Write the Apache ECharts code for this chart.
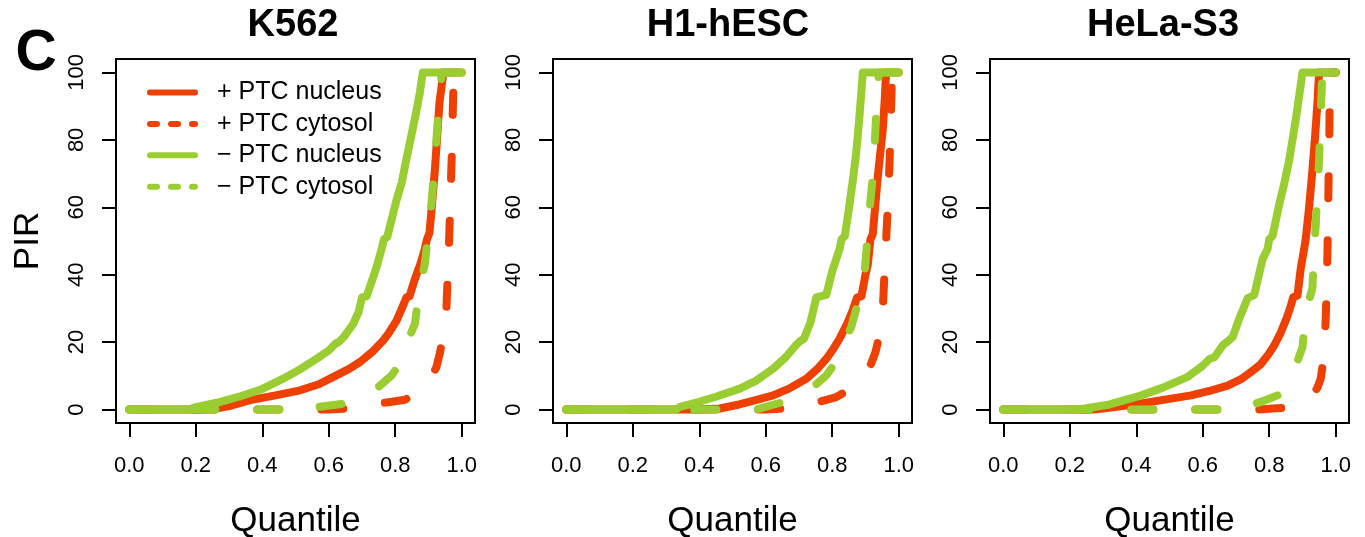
<!DOCTYPE html>
<html>
<head>
<meta charset="utf-8">
<script src="https://cdn.jsdelivr.net/npm/echarts@6/dist/echarts.min.js"></script>
<style>
  html, body { margin: 0; padding: 0; background: #fff; }
  #chart { width: 1365px; height: 537px; }
</style>
</head>
<body>
<div id="chart"></div>
<script>
// Cell lines, one panel each
const cellLines = ['K562', 'H1-hESC', 'HeLa-S3'];
const seriesNames = ['+ PTC nucleus', '+ PTC cytosol', '\u2212 PTC nucleus', '\u2212 PTC cytosol'];
const xTicks = [0, 0.2, 0.4, 0.6, 0.8, 1.0];
const yTicks = [0, 20, 40, 60, 80, 100];

// Quantile curves of PIR: [quantile, PIR]
const k562PlusNucleus = [[0,0],[0.22,0],[0.26,0.3],[0.30,1.0],[0.363,2.8],[0.44,4.2],[0.514,5.7],[0.57,7.5],[0.614,9.7],[0.66,12],[0.694,14.1],[0.73,17],[0.764,20.5],[0.78,22.6],[0.804,26.4],[0.82,30],[0.834,33.3],[0.843,33.6],[0.859,38.7],[0.875,43],[0.889,47.6],[0.895,50.3],[0.903,52.5],[0.91,60],[0.92,72],[0.933,91],[0.945,100],[1,100]];
const k562PlusCytosol = [[0,0],[0.60,0],[0.65,0.3],[0.70,1.0],[0.749,1.8],[0.79,2.3],[0.829,2.9],[0.86,4.5],[0.889,7.2],[0.91,10],[0.924,12.6],[0.935,17],[0.944,22],[0.954,30],[0.958,40],[0.962,50],[0.966,62],[0.97,75],[0.973,88],[0.976,100],[1,100]];
const k562MinusNucleus = [[0,0],[0.18,0],[0.203,0.8],[0.263,2.0],[0.33,3.8],[0.40,6.1],[0.46,9],[0.51,11.7],[0.564,15.1],[0.60,17.5],[0.62,19.5],[0.632,20.2],[0.645,21.5],[0.673,25.3],[0.69,29],[0.70,33.3],[0.714,33.6],[0.743,42],[0.76,48],[0.766,50.5],[0.776,51.2],[0.803,61.8],[0.82,67.5],[0.833,74],[0.85,82],[0.863,88.2],[0.874,94],[0.883,100],[1,100]];
const k562MinusCytosol = [[0,0],[0.565,0],[0.569,0.8],[0.649,1.8],[0.70,3.8],[0.744,6.2],[0.789,10.1],[0.81,13],[0.834,19.5],[0.859,25.4],[0.874,36.3],[0.889,43.2],[0.90,53],[0.91,62],[0.92,75],[0.93,88],[0.94,100],[1,100]];

const h1PlusNucleus = [[0,0],[0.40,0],[0.462,0.3],[0.52,1.5],[0.57,2.8],[0.622,4.2],[0.67,6.2],[0.722,9.1],[0.755,12],[0.782,15],[0.80,17.5],[0.822,21],[0.845,25.5],[0.862,29.5],[0.875,33.3],[0.888,33.6],[0.90,40],[0.907,43],[0.915,50.5],[0.922,52],[0.937,69],[0.952,83],[0.958,92],[0.962,100],[1,100]];
const h1PlusCytosol = [[0,0],[0.60,0],[0.651,0.3],[0.70,1.2],[0.742,1.8],[0.78,2.8],[0.812,3.7],[0.85,5.8],[0.877,8.2],[0.90,11],[0.917,13.6],[0.93,17],[0.942,22],[0.952,29.4],[0.957,40],[0.962,50],[0.967,60],[0.972,72],[0.976,85],[0.98,100],[1,100]];
const h1MinusNucleus = [[0,0],[0.33,0],[0.342,0.8],[0.40,2.3],[0.45,3.8],[0.522,6.2],[0.57,8.5],[0.622,12.1],[0.66,15.5],[0.69,19],[0.702,20.2],[0.715,21],[0.735,26],[0.752,33.3],[0.782,34],[0.80,41],[0.822,47.6],[0.828,50.5],[0.838,51.5],[0.852,60.8],[0.862,68],[0.872,76],[0.882,87],[0.892,100],[1,100]];
const h1MinusCytosol = [[0,0],[0.57,0],[0.572,0.3],[0.647,2.1],[0.70,4.2],[0.737,6.2],[0.782,10.1],[0.81,14],[0.827,18],[0.857,24.4],[0.882,33.3],[0.897,40.2],[0.907,52],[0.915,62],[0.922,69],[0.927,77],[0.932,87],[0.937,95],[0.94,100],[1,100]];

const helaPlusNucleus = [[0,0],[0.27,0],[0.30,0.3],[0.415,1.8],[0.49,3],[0.565,4.2],[0.62,5.5],[0.675,7.1],[0.715,9],[0.745,11.1],[0.775,13.5],[0.795,16],[0.815,19],[0.835,22.9],[0.852,27],[0.865,30.8],[0.872,33.3],[0.885,33.8],[0.895,42],[0.905,47.6],[0.91,50.7],[0.92,60],[0.93,71],[0.938,81],[0.945,91],[0.95,100],[1,100]];
const helaPlusCytosol = [[0,0],[0.765,0],[0.80,0.2],[0.84,0.5],[0.88,1.5],[0.925,3.3],[0.945,6.5],[0.955,9.2],[0.962,14],[0.966,19],[0.97,27],[0.973,37],[0.975,46],[0.977,56],[0.978,65],[0.98,75],[0.981,83],[0.982,92],[0.983,100],[1,100]];
const helaMinusNucleus = [[0,0],[0.22,0],[0.245,0.3],[0.32,1.5],[0.415,4.2],[0.48,6.5],[0.555,9.7],[0.60,13],[0.62,15],[0.635,15.5],[0.66,19],[0.675,20.2],[0.69,21.5],[0.71,27],[0.735,33],[0.755,34],[0.78,44.6],[0.795,47.6],[0.80,50.5],[0.81,51.5],[0.83,60.8],[0.845,67],[0.86,74],[0.87,80],[0.88,86.1],[0.89,93],[0.90,100],[1,100]];
const helaMinusCytosol = [[0,0],[0.74,0],[0.76,1.8],[0.79,2.8],[0.825,4.2],[0.85,7],[0.875,11.6],[0.90,18.5],[0.91,29],[0.93,36],[0.935,47],[0.94,55],[0.945,65],[0.95,74],[0.955,88],[0.96,100],[1,100]];

const panelData = [
  [k562PlusNucleus, k562PlusCytosol, k562MinusNucleus, k562MinusCytosol],
  [h1PlusNucleus, h1PlusCytosol, h1MinusNucleus, h1MinusCytosol],
  [helaPlusNucleus, helaPlusCytosol, helaMinusNucleus, helaMinusCytosol]
];

const FONT = '"Liberation Sans", Arial, Helvetica, sans-serif';
const RED = '#EE4000';
const GREEN = '#9ACD32';
const seriesColors = [RED, RED, GREEN, GREEN];
const seriesDashed = [false, true, false, true];
const DASH = [22, 42];

const gridLefts = [116, 553, 990];
const titleCenters = [293, 728, 1163];

const grids = gridLefts.map(l => ({
  left: l, top: 59, width: 359, height: 364,
  show: true, borderColor: '#000', borderWidth: 2,
  backgroundColor: 'transparent', containLabel: false, outerBoundsMode: 'none'
}));

const xAxes = gridLefts.map((_, i) => ({
  type: 'value', gridIndex: i, min: -0.04, max: 1.04,
  axisLine: { show: false, onZero: false },
  splitLine: { show: false },
  axisTick: { show: true, inside: false, length: 14, customValues: xTicks, lineStyle: { color: '#000', width: 2 } },
  axisLabel: { customValues: xTicks, formatter: v => v.toFixed(1), margin: 32, fontSize: 22, color: '#000', fontFamily: FONT },
  name: 'Quantile', nameLocation: 'middle', nameGap: 81,
  nameTextStyle: { fontSize: 35, color: '#000', fontFamily: FONT }
}));

const yAxes = gridLefts.map((_, i) => ({
  type: 'value', gridIndex: i, min: -4, max: 104,
  axisLine: { show: false, onZero: false },
  splitLine: { show: false },
  axisTick: { show: true, inside: false, length: 14, customValues: yTicks, lineStyle: { color: '#000', width: 2 } },
  axisLabel: { customValues: yTicks, rotate: 90, margin: 28, fontSize: 22, color: '#000', fontFamily: FONT },
  name: i === 0 ? 'PIR' : '', nameLocation: 'middle', nameGap: 70, nameRotate: 90,
  nameTextStyle: { fontSize: 35, color: '#000', fontFamily: FONT }
}));

const series = [];
panelData.forEach((curves, p) => {
  curves.forEach((data, k) => {
    series.push({
      type: 'line', name: seriesNames[k], xAxisIndex: p, yAxisIndex: p,
      data: data, symbol: 'none', showSymbol: false, smooth: false, silent: true,
      z: 2 + k,
      itemStyle: { color: seriesColors[k] },
      lineStyle: { color: seriesColors[k], width: 8, type: seriesDashed[k] ? DASH : 'solid', cap: 'round', join: 'round' }
    });
  });
});

const graphics = cellLines.map((t, i) => ({
  type: 'text', x: titleCenters[i], y: 26,
  style: { text: t, fill: '#000', font: 'bold 38px ' + FONT, align: 'center', verticalAlign: 'middle' }
}));
graphics.push({
  type: 'text', x: 36, y: 54,
  style: { text: 'C', fill: '#000', font: 'bold 57px ' + FONT, align: 'center', verticalAlign: 'middle' }
});

const option = {
  backgroundColor: '#fff',
  animation: false,
  grid: grids,
  xAxis: xAxes,
  yAxis: yAxes,
  legend: {
    orient: 'vertical', left: 147, top: 80, padding: 0,
    itemWidth: 45, itemHeight: 14, itemGap: 6.4, selectedMode: false,
    textStyle: { fontSize: 25, color: '#000', fontFamily: FONT, padding: [0, 0, 0, 17] },
    data: seriesNames.map((n, k) => ({
      name: n,
      itemStyle: { color: 'rgba(0,0,0,0)', borderColor: 'rgba(0,0,0,0)', borderWidth: 0, opacity: 0 },
      lineStyle: { color: seriesColors[k], width: 6, type: seriesDashed[k] ? [7, 14] : 'solid', cap: 'round', opacity: 1 }
    }))
  },
  graphic: graphics,
  series: series
};

const chart = echarts.init(document.getElementById('chart'), null, { renderer: 'canvas' });
chart.setOption(option);
</script>
</body>
</html>
